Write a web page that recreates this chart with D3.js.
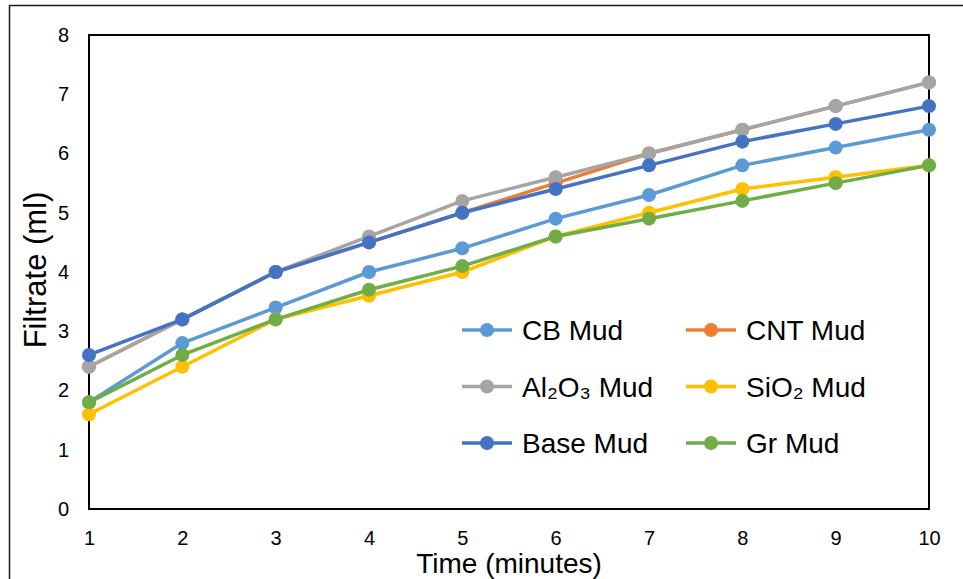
<!DOCTYPE html>
<html>
<head>
<meta charset="utf-8">
<script src="https://cdn.jsdelivr.net/npm/d3@7"></script>
<style>
  body { margin: 0; background: #fff; }
  svg { display: block; font-family: "Liberation Sans", Arial, sans-serif; }
</style>
</head>
<body>
<div id="chart"></div>
<script>
// Filtrate volume vs time for each mud
const times = [1, 2, 3, 4, 5, 6, 7, 8, 9, 10]
const seriesNames = ['CB Mud', 'CNT Mud', 'Al₂O₃ Mud', 'SiO₂ Mud', 'Base Mud', 'Gr Mud']
const seriesColors = ['#5B9BD5', '#ED7D31', '#A5A5A5', '#FFC000', '#4472C4', '#70AD47']
const cbMud = [1.8, 2.8, 3.4, 4.0, 4.4, 4.9, 5.3, 5.8, 6.1, 6.4]
const cntMud = [2.4, 3.2, 4.0, 4.5, 5.0, 5.5, 6.0, 6.4, 6.8, 7.2]
const al2o3Mud = [2.4, 3.2, 4.0, 4.6, 5.2, 5.6, 6.0, 6.4, 6.8, 7.2]
const sio2Mud = [1.6, 2.4, 3.2, 3.6, 4.0, 4.6, 5.0, 5.4, 5.6, 5.8]
const baseMud = [2.6, 3.2, 4.0, 4.5, 5.0, 5.4, 5.8, 6.2, 6.5, 6.8]
const grMud = [1.8, 2.6, 3.2, 3.7, 4.1, 4.6, 4.9, 5.2, 5.5, 5.8]
const yTicks = [0, 1, 2, 3, 4, 5, 6, 7, 8]

const allSeries = [cbMud, cntMud, al2o3Mud, sio2Mud, baseMud, grMud]

const chartWidth = 963
const chartHeight = 579
const margin = { top: 35, right: 34, bottom: 70, left: 89 }
const width = chartWidth - margin.left - margin.right
const height = chartHeight - margin.top - margin.bottom

const svg = d3.select('#chart')
  .append('svg')
    .attr('width', chartWidth)
    .attr('height', chartHeight)

// outer chart border
svg.append('rect')
  .attr('x', 9.5)
  .attr('y', 5.5)
  .attr('width', chartWidth)
  .attr('height', chartHeight)
  .attr('fill', 'none')
  .attr('stroke', '#1a1a1a')
  .attr('stroke-width', 1.5)

const g = svg.append('g')
  .attr('transform', `translate(${margin.left}, ${margin.top})`)

const x = d3.scaleLinear()
  .domain([1, 10])
  .range([0, width])

const y = d3.scaleLinear()
  .domain([0, 8])
  .range([height, 0])

// plot area border
g.append('rect')
  .attr('x', 0)
  .attr('y', 0)
  .attr('width', width)
  .attr('height', height)
  .attr('fill', 'none')
  .attr('stroke', '#000')
  .attr('stroke-width', 2)

// axes
const xAxis = g.append('g')
  .attr('transform', `translate(0, ${height})`)
  .call(d3.axisBottom(x).tickValues(times).tickSize(0).tickPadding(22).tickFormat(d3.format('d')))
xAxis.select('.domain').remove()
xAxis.selectAll('text').attr('font-size', 20).attr('fill', '#000').attr('font-family', null)

const yAxis = g.append('g')
  .call(d3.axisLeft(y).tickValues(yTicks).tickSize(0).tickPadding(20).tickFormat(d3.format('d')))
yAxis.select('.domain').remove()
yAxis.selectAll('text').attr('font-size', 20).attr('fill', '#000').attr('font-family', null)

// axis titles
svg.append('text')
  .attr('x', 509)
  .attr('y', 573)
  .attr('text-anchor', 'middle')
  .attr('font-size', 28)
  .text('Time (minutes)')

svg.append('text')
  .attr('transform', `translate(46, ${margin.top + height / 2 - 2}) rotate(-90)`)
  .attr('text-anchor', 'middle')
  .attr('font-size', 31)
  .text('Filtrate (ml)')

// lines and markers
const line = d3.line()
  .x((d, i) => x(times[i]))
  .y(d => y(d))

allSeries.forEach((values, si) => {
  const s = g.append('g')
  s.append('path')
    .attr('d', line(values))
    .attr('fill', 'none')
    .attr('stroke', seriesColors[si])
    .attr('stroke-width', 3.5)
    .attr('stroke-linejoin', 'round')
  s.selectAll('circle')
    .data(values)
    .enter()
    .append('circle')
      .attr('cx', (d, i) => x(times[i]))
      .attr('cy', d => y(d))
      .attr('r', 7)
      .attr('fill', seriesColors[si])
})

// legend, two columns
const legend = svg.append('g')
  .attr('transform', 'translate(462, 330)')

seriesNames.forEach((name, i) => {
  const col = i % 2
  const row = Math.floor(i / 2)
  const item = legend.append('g')
    .attr('transform', `translate(${col * 224}, ${row * 56.5})`)
  item.append('line')
    .attr('x1', 0)
    .attr('x2', 50)
    .attr('stroke', seriesColors[i])
    .attr('stroke-width', 3.5)
  item.append('circle')
    .attr('cx', 25)
    .attr('r', 7)
    .attr('fill', seriesColors[i])
  item.append('text')
    .attr('x', 60)
    .attr('dy', '0.36em')
    .attr('font-size', 28)
    .text(name)
})
</script>
</body>
</html>
